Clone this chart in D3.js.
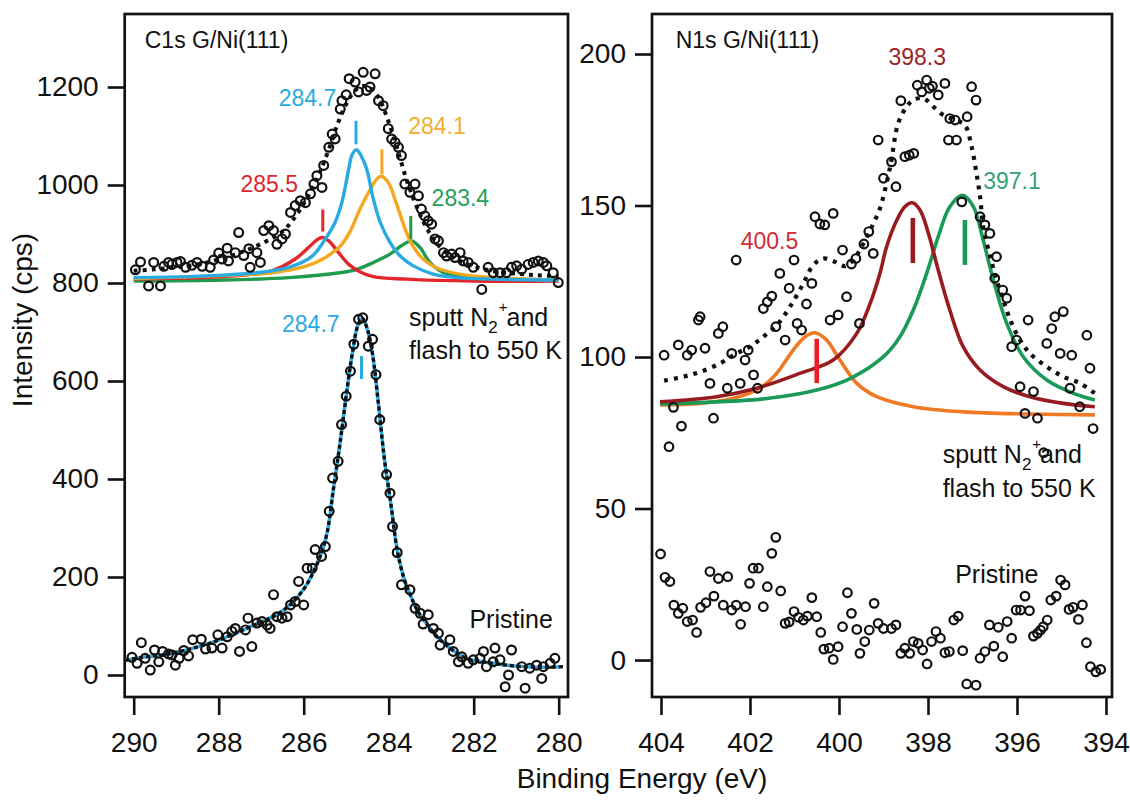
<!DOCTYPE html>
<html lang="en">
<head>
<meta charset="utf-8">
<script src="https://d3js.org/d3.v7.min.js"></script>
<title>C1s and N1s XPS of G/Ni(111)</title>
<style>
  body { margin: 0; background: #fff; }
  text { font-family: "Liberation Sans", Arial, sans-serif; }
</style>
</head>
<body>
<script>
// ---------------- data (binding energy eV, counts) ----------------
var c1sXTicks = [290, 288, 286, 284, 282, 280];
var c1sYTicks = [0, 200, 400, 600, 800, 1000, 1200];
var n1sXTicks = [404, 402, 400, 398, 396, 394];
var n1sYTicks = [0, 50, 100, 150, 200];

// C1s after N2+ sputtering and flash to 550 K (offset spectrum)
var c1sSputt = [
  [289.96,827],[289.84,843],[289.65,794],[289.53,842],[289.37,794],[289.29,834],[289.18,842],[289.10,838],
  [288.98,842],[288.90,844],[288.78,832],[288.63,836],[288.51,842],[288.39,834],[288.20,832],[288.12,847],
  [288.00,861],[287.92,849],[287.80,871],[287.77,845],[287.61,862],[287.53,903],[287.41,856],[287.29,870],
  [287.26,832],[287.10,862],[287.02,842],[286.94,907],[286.82,917],[286.71,907],[286.63,879],[286.51,890],
  [286.43,900],[286.31,944],[286.20,958],[286.08,968],[285.96,964],[285.84,982],[285.76,1002],[285.69,1019],
  [285.57,995],[285.53,1040],[285.41,1077],[285.33,1104],[285.26,1094],[285.14,1155],[285.10,1172],[285.00,1184],
  [284.93,1217],[284.79,1210],[284.71,1190],[284.60,1230],[284.52,1193],[284.44,1200],[284.32,1227],[284.24,1172],
  [284.13,1162],[284.01,1115],[283.93,1094],[283.85,1087],[283.77,1077],[283.70,1060],[283.62,1002],[283.50,985],
  [283.38,1002],[283.30,978],[283.23,951],[283.15,937],[283.07,927],[282.99,920],[282.91,890],[282.83,886],
  [282.71,862],[282.64,855],[282.52,859],[282.44,852],[282.32,862],[282.25,845],[282.13,842],[282.01,832],
  [281.81,787],[281.66,832],[281.54,821],[281.38,821],[281.23,821],[281.11,832],[280.99,835],[280.87,828],
  [280.72,838],[280.60,842],[280.48,845],[280.36,842],[280.28,835],[280.13,821],[280.01,801]
];
var c1sSputtFit = [
  [290.0,825],[289.5,828],[289.0,832],[288.5,838],[288.0,848],[287.5,862],[287.0,880],[286.5,905],
  [286.2,935],[286.0,962],[285.8,993],[285.6,1030],[285.4,1075],[285.2,1125],[285.0,1165],[284.8,1192],
  [284.6,1202],[284.4,1196],[284.2,1172],[284.0,1128],[283.8,1075],[283.6,1016],[283.4,968],[283.2,928],
  [283.0,897],[282.8,874],[282.5,853],[282.0,834],[281.5,824],[281.0,819],[280.5,816],[280.0,814]
];
var c1sPeak2855 = [
  [290.0,808],[287.92,813],[286.75,825],[286.2,849],[285.88,873],[285.69,888],[285.57,893],[285.41,886],
  [285.18,862],[284.94,838],[284.68,823],[284.36,813],[283.58,808],[282.0,804],[280.0,804]
];
var c1sPeak2847 = [
  [290.0,811],[288.7,813],[287.9,816],[287.1,821],[286.35,832],[285.8,855],[285.49,890],[285.26,924],
  [285.1,965],[284.94,1033],[284.87,1060],[284.76,1072],[284.65,1060],[284.52,1033],[284.36,971],[284.2,924],
  [283.97,883],[283.73,855],[283.42,835],[282.95,818],[282.4,811],[281.62,808],[280.0,806]
];
var c1sPeak2841 = [
  [290.0,809],[287.92,815],[286.75,821],[285.96,834],[285.57,848],[285.26,866],[285.15,874],[284.91,905],
  [284.68,950],[284.44,990],[284.28,1012],[284.17,1018],[284.01,1005],[283.81,960],[283.62,912],[283.46,880],
  [283.19,849],[282.79,828],[282.17,816],[281.22,810],[280.0,806]
];
var c1sPeak2834 = [
  [290.0,804],[287.92,806],[286.35,811],[285.15,821],[284.75,828],[284.36,842],[283.97,859],[283.7,876],
  [283.46,886],[283.26,872],[283.03,842],[282.71,821],[282.17,811],[281.22,808],[280.0,806]
];

// C1s pristine graphene
var c1sPristine = [
  [290.04,36],[289.92,24],[289.82,66],[289.73,34],[289.61,10],[289.51,51],[289.41,27],[289.32,48],
  [289.18,43],[289.10,41],[289.02,20],[288.93,34],[288.82,50],[288.71,39],[288.61,72],[288.41,73],
  [288.31,53],[288.16,55],[288.02,82],[287.92,55],[287.80,78],[287.69,89],[287.61,95],[287.51,48],
  [287.37,92],[287.31,116],[287.22,58],[287.10,106],[286.98,109],[286.86,102],[286.79,95],[286.71,164],
  [286.63,119],[286.51,116],[286.39,119],[286.31,143],[286.20,150],[286.12,191],[286.00,143],[285.92,218],
  [285.80,218],[285.73,256],[285.58,242],[285.49,262],[285.40,334],[285.32,402],[285.19,436],[285.11,511],
  [285.00,569],[284.90,620],[284.82,675],[284.71,726],[284.61,729],[284.48,671],[284.38,685],[284.30,613],
  [284.21,521],[284.05,409],[283.97,371],[283.91,303],[283.80,250],[283.70,184],[283.50,174],[283.38,136],
  [283.26,126],[283.19,104],[283.07,123],[282.95,95],[282.83,85],[282.79,61],[282.56,72],[282.48,48],
  [282.36,27],[282.28,37],[282.13,24],[282.01,31],[281.85,34],[281.77,48],[281.70,17],[281.54,27],
  [281.50,55],[281.38,31],[281.26,-24],[281.18,0],[281.11,51],[280.87,17],[280.79,-27],[280.68,14],
  [280.52,20],[280.40,-7],[280.36,17],[280.20,24],[280.09,34]
];
var c1sPristineFit = [
  [290.2,30],[289.8,36],[289.4,40],[289.0,46],[288.6,55],[288.2,65],[287.8,78],[287.4,93],[287.0,108],
  [286.6,125],[286.3,145],[286.0,175],[285.8,205],[285.6,245],[285.45,290],[285.3,380],[285.15,470],
  [285.0,570],[284.85,660],[284.72,715],[284.62,728],[284.5,705],[284.38,655],[284.25,560],[284.1,440],
  [283.95,350],[283.8,255],[283.65,200],[283.5,165],[283.3,128],[283.1,104],[282.9,82],[282.7,65],
  [282.4,45],[282.1,32],[281.8,27],[281.4,22],[281.0,18],[280.6,16],[280.2,16],[279.9,17]
];

// N1s after N2+ sputtering and flash to 550 K
var n1sSputt = [
  [403.93,100.6],[403.82,70.4],[403.72,83.4],[403.61,104.0],[403.54,77.2],[403.41,100.6],[403.31,102.3],
  [403.16,112.2],[403.12,113.3],[403.01,102.9],[402.90,91.3],[402.82,79.8],[402.71,107.8],[402.61,110.0],
  [402.51,89.7],[402.41,101.2],[402.31,132.0],[402.22,91.3],[402.11,99.0],[402.04,102.3],[401.92,94.1],
  [401.83,89.7],[401.70,116.0],[401.61,118.2],[401.51,120.1],[401.42,110.0],[401.33,127.6],[401.21,105.6],
  [401.12,122.7],[401.01,132.0],[400.94,111.1],[400.84,108.9],[400.73,117.5],[400.61,124.3],[400.54,146.3],
  [400.43,143.9],[400.32,143.6],[400.20,112.2],[400.13,147.4],[400.02,113.9],[399.92,135.3],[399.83,119.9],
  [399.72,130.7],[399.62,132.5],[399.54,111.1],[399.44,137.3],[399.33,141.4],[399.23,134.2],[399.12,171.6],
  [399.00,159.0],[398.82,164.4],[398.72,156.2],[398.61,184.6],[398.52,166.1],[398.42,166.6],[398.32,167.2],
  [398.24,189.7],[398.14,187.5],[398.03,191.4],[397.97,188.7],[397.90,189.4],[397.77,186.5],[397.62,190.3],
  [397.54,171.6],[397.51,178.7],[397.39,178.2],[397.36,171.6],[397.24,151.2],[397.12,179.3],[397.02,189.2],
  [396.92,184.8],[396.83,146.3],[396.72,143.6],[396.61,140.8],[396.50,126.0],[396.46,133.1],[396.32,122.1],
  [396.23,119.4],[396.12,103.4],[396.01,105.6],[395.93,90.2],[395.82,81.4],[395.75,112.2],[395.63,88.6],
  [395.54,79.8],[395.40,68.4],[395.33,104.5],[395.22,109.4],[395.15,113.3],[395.03,101.2],[394.96,115.0],
  [394.81,89.7],[394.77,100.6],[394.59,83.6],[394.43,107.2],[394.36,96.3],[394.29,76.4]
];
var n1sSputtFit = [
  [403.93,92.2],[403.5,93.5],[403.12,95.1],[402.67,97.9],[402.3,101.2],[402.0,103.4],[401.7,106.7],
  [401.4,110.5],[401.1,116.6],[400.8,124.3],[400.58,130.3],[400.35,132.5],[400.09,131.4],[399.87,130.0],
  [399.68,132.0],[399.45,137.5],[399.23,144.0],[399.08,149.0],[398.85,162.8],[398.67,177.1],[398.48,182.6],
  [398.33,184.8],[398.1,185.4],[397.88,182.6],[397.66,179.9],[397.39,178.2],[397.17,176.5],[397.02,169.4],
  [396.91,160.6],[396.83,152.9],[396.76,143.0],[396.64,135.3],[396.5,127.6],[396.31,118.8],[396.12,111.1],
  [395.93,105.6],[395.71,101.2],[395.33,96.8],[394.96,93.5],[394.58,91.3],[394.25,88.0]
];
var n1sPeak4005 = [
  [404.02,84.2],[403.12,84.7],[402.37,86.4],[401.78,89.7],[401.4,94.6],[401.03,102.3],[400.76,106.7],
  [400.54,108.0],[400.28,105.6],[399.98,99.0],[399.6,91.3],[399.15,86.9],[398.33,83.6],[397.21,81.9],
  [395.71,81.2],[394.25,80.9]
];
var n1sPeak3983 = [
  [404.02,85.2],[402.75,86.9],[401.85,89.7],[400.88,94.6],[400.13,99.0],[399.6,107.8],[399.3,117.7],
  [399.08,127.6],[398.93,136.4],[398.7,145.2],[398.52,149.6],[398.35,150.9],[398.18,148.5],[397.99,140.8],
  [397.77,128.7],[397.51,115.5],[397.21,103.4],[396.83,95.7],[396.31,90.2],[395.71,86.9],[394.96,84.7],
  [394.25,83.6]
];
var n1sPeak3971 = [
  [404.02,84.5],[402.75,85.2],[401.62,86.3],[400.5,89.1],[399.75,92.9],[399.0,100.1],[398.63,106.7],
  [398.33,115.5],[398.03,127.6],[397.77,139.7],[397.51,149.6],[397.22,153.4],[396.98,149.6],[396.76,138.6],
  [396.53,125.4],[396.23,111.1],[395.86,100.1],[395.33,92.4],[394.73,88.0],[394.25,85.8]
];

// N1s pristine graphene
var n1sPristine = [
  [404.01,35.0],[403.91,27.3],[403.80,25.9],[403.71,18.1],[403.61,15.4],[403.51,17.1],[403.41,12.7],
  [403.29,13.2],[403.20,9.1],[403.11,17.4],[402.99,18.9],[402.90,29.2],[402.81,21.1],[402.71,26.9],
  [402.60,18.1],[402.50,27.5],[402.41,16.5],[402.31,18.1],[402.21,11.8],[402.10,17.6],[402.01,25.3],
  [401.93,30.3],[401.81,30.3],[401.70,17.6],[401.61,24.2],[401.51,35.2],[401.42,40.5],[401.31,22.8],
  [401.21,12.1],[401.12,12.6],[401.01,16.0],[400.91,14.1],[400.80,13.2],[400.71,14.5],[400.61,20.6],
  [400.50,14.3],[400.41,9.1],[400.34,3.6],[400.22,3.9],[400.13,0.2],[400.02,4.4],[399.92,11.0],
  [399.81,22.2],[399.72,15.4],[399.60,10.1],[399.53,2.2],[399.42,6.1],[399.32,9.9],[399.21,18.7],
  [399.12,12.1],[399.00,10.4],[398.82,10.4],[398.72,11.6],[398.61,2.2],[398.52,3.9],[398.41,2.2],
  [398.33,6.1],[398.22,5.5],[398.12,3.3],[398.02,-1.3],[397.92,6.1],[397.82,9.4],[397.72,7.2],
  [397.62,2.4],[397.52,2.8],[397.42,13.2],[397.32,14.5],[397.22,3.1],[397.13,-7.9],[396.92,-8.3],
  [396.83,0.6],[396.72,2.8],[396.62,11.6],[396.52,4.6],[396.42,10.8],[396.32,1.1],[396.22,12.7],
  [396.12,7.2],[396.02,16.5],[395.92,16.5],[395.82,21.1],[395.72,16.3],[395.63,7.9],[395.54,8.8],
  [395.47,9.9],[395.41,11.0],[395.32,13.2],[395.24,19.8],[395.12,21.1],[395.02,26.4],[394.92,24.8],
  [394.83,16.7],[394.74,17.4],[394.62,13.4],[394.53,18.2],[394.44,5.7],[394.35,-2.2],[394.23,-3.9],
  [394.12,-3.1]
];

// peak markers: [label, position eV, bar bottom, bar top]
var c1sMarks = [
  ['285.5', 285.55, 905, 950],
  ['284.7', 284.77, 1083, 1131],
  ['284.1', 284.16, 1022, 1073],
  ['283.4', 283.48, 890, 937],
  ['284.7p', 284.64, 604, 651]
];
var n1sMarks = [
  ['400.5', 400.50, 91.4, 106],
  ['398.3', 398.34, 131, 145.9],
  ['397.1', 397.17, 130.4, 145.2]
];

// ---------------- drawing ----------------
var W = 1130, H = 800;
var plotTop = 14, plotBottom = 697;
var col = {
  blue: '#29abe2', orange: '#f4a81f', red: '#e2262b', green: '#1f9b4e',
  dkred: '#981c1f', orange2: '#ef7a23', red2: '#ee1c25', green2: '#1a9a58'
};

var svg = d3.select('body').append('svg')
  .attr('width', W).attr('height', H);
svg.append('rect').attr('width', W).attr('height', H).attr('fill', '#fff');

function makePanel(left, right, xDom, yDom, xTicks, yTicks) {
  var x = d3.scaleLinear().domain(xDom).range([left, right]);
  var y = d3.scaleLinear().domain(yDom).range([plotBottom, plotTop]);
  var g = svg.append('g');

  var ax = g.append('g').attr('transform', 'translate(0,' + plotBottom + ')')
    .call(d3.axisBottom(x).tickValues(xTicks).tickSize(18).tickPadding(17).tickFormat(d3.format('d')));
  var ay = g.append('g').attr('transform', 'translate(' + left + ',0)')
    .call(d3.axisLeft(y).tickValues(yTicks).tickSize(17).tickPadding(9).tickFormat(d3.format('d')));
  [ax, ay].forEach(function(a) {
    a.select('.domain').remove();
    a.selectAll('line').attr('stroke', '#111').attr('stroke-width', 2.6);
    a.selectAll('text').attr('fill', '#111').style('font-size', '28px')
      .style('font-family', '"Liberation Sans", Arial, sans-serif');
  });

  g.append('rect')
    .attr('x', left).attr('y', plotTop)
    .attr('width', right - left).attr('height', plotBottom - plotTop)
    .attr('fill', 'none').attr('stroke', '#111').attr('stroke-width', 2.7);

  return { g: g, x: x, y: y };
}

function drawLine(p, data, color, width, dash) {
  var line = d3.line()
    .x(function(d) { return p.x(d[0]); })
    .y(function(d) { return p.y(d[1]); })
    .curve(d3.curveCatmullRom.alpha(0.5));
  var path = p.g.append('path').datum(data)
    .attr('d', line).attr('fill', 'none')
    .attr('stroke', color).attr('stroke-width', width)
    .attr('stroke-linejoin', 'round');
  if (dash) path.attr('stroke-dasharray', dash);
  return path;
}

function drawPoints(p, data, r) {
  p.g.append('g').selectAll('circle').data(data).join('circle')
    .attr('cx', function(d) { return p.x(d[0]); })
    .attr('cy', function(d) { return p.y(d[1]); })
    .attr('r', r)
    .attr('fill', 'none').attr('stroke', '#111').attr('stroke-width', 2.2);
}

function drawMark(p, m, color, width) {
  p.g.append('line')
    .attr('x1', p.x(m[1])).attr('x2', p.x(m[1]))
    .attr('y1', p.y(m[2])).attr('y2', p.y(m[3]))
    .attr('stroke', color).attr('stroke-width', width);
}

function label(p, txt, e, v, color, size) {
  return p.g.append('text')
    .attr('x', p.x(e)).attr('y', p.y(v))
    .attr('fill', color).style('font-size', size + 'px')
    .text(txt);
}

function sputtLabel(p, e, v1, v2) {
  var t = p.g.append('text').attr('x', p.x(e)).attr('y', p.y(v1))
    .attr('fill', '#111').style('font-size', '25px');
  t.append('tspan').text('sputt N');
  t.append('tspan').attr('dy', 7).style('font-size', '17px').text('2');
  t.append('tspan').attr('dy', -21).attr('dx', 1).style('font-size', '15px').text('+');
  t.append('tspan').attr('dy', 14).attr('dx', -1).text('and');
  label(p, 'flash to 550 K', e, v2, '#111', 25);
}

// ---- C1s panel ----
var pc = makePanel(124.7, 568, [290.212, 279.781], [-44.9, 1349], c1sXTicks, c1sYTicks);

drawLine(pc, c1sPeak2834, col.green, 3.4);
drawLine(pc, c1sPeak2855, col.red, 3.4);
drawLine(pc, c1sPeak2841, col.orange, 3.4);
drawLine(pc, c1sPeak2847, col.blue, 3.4);
drawLine(pc, c1sSputtFit, '#111', 4, '4,5');
drawLine(pc, c1sPristineFit, col.blue, 3.4);
drawLine(pc, c1sPristineFit, '#111', 3.4, '4,3');
drawPoints(pc, c1sSputt, 4.4);
drawPoints(pc, c1sPristine, 4.4);

var c1sMarkCol = [col.red, col.blue, col.orange, col.green, col.blue];
c1sMarks.forEach(function(m, i) { drawMark(pc, m, c1sMarkCol[i], 3); });

label(pc, '285.5', 287.49, 985, '#d9272e', 23);
label(pc, '284.7', 286.59, 1162, col.blue, 23);
label(pc, '284.1', 283.54, 1104, '#f2ae2c', 23);
label(pc, '283.4', 282.99, 958, '#23a05a', 23);
label(pc, '284.7', 286.51, 699, col.blue, 23);
label(pc, 'C1s G/Ni(111)', 289.74, 1280, '#111', 23);
label(pc, 'Pristine', 282.10, 96, '#111', 25);
sputtLabel(pc, 283.52, 712, 644);

// ---- N1s panel ----
var pn = makePanel(652, 1112, [404.202, 393.865], [-12.2, 213.2], n1sXTicks, n1sYTicks);

drawLine(pn, n1sPeak4005, col.orange2, 3.6);
drawLine(pn, n1sPeak3971, col.green2, 3.6);
drawLine(pn, n1sPeak3983, col.dkred, 3.6);
drawLine(pn, n1sSputtFit, '#111', 4.2, '4,6');
drawPoints(pn, n1sSputt, 4.3);
drawPoints(pn, n1sPristine, 4.3);

var n1sMarkCol = [col.red2, col.dkred, col.green2];
n1sMarks.forEach(function(m, i) { drawMark(pn, m, n1sMarkCol[i], 4.6); });

label(pn, '400.5', 402.21, 135.5, '#d12b36', 23);
label(pn, '398.3', 398.89, 196.4, '#9b2428', 23);
label(pn, '397.1', 396.76, 155.3, '#35a376', 23);
label(pn, 'N1s G/Ni(111)', 403.67, 202, '#111', 23);
label(pn, 'Pristine', 397.39, 25.3, '#111', 25);
sputtLabel(pn, 397.67, 65.0, 53.8);

// ---- axis titles ----
svg.append('text')
  .attr('transform', 'translate(32,320) rotate(-90)')
  .attr('text-anchor', 'middle').attr('fill', '#111')
  .style('font-size', '28px').text('Intensity (cps)');
svg.append('text')
  .attr('x', 642).attr('y', 788)
  .attr('text-anchor', 'middle').attr('fill', '#111')
  .style('font-size', '28px').text('Binding Energy (eV)');

console.log('ready..');
</script>
</body>
</html>
